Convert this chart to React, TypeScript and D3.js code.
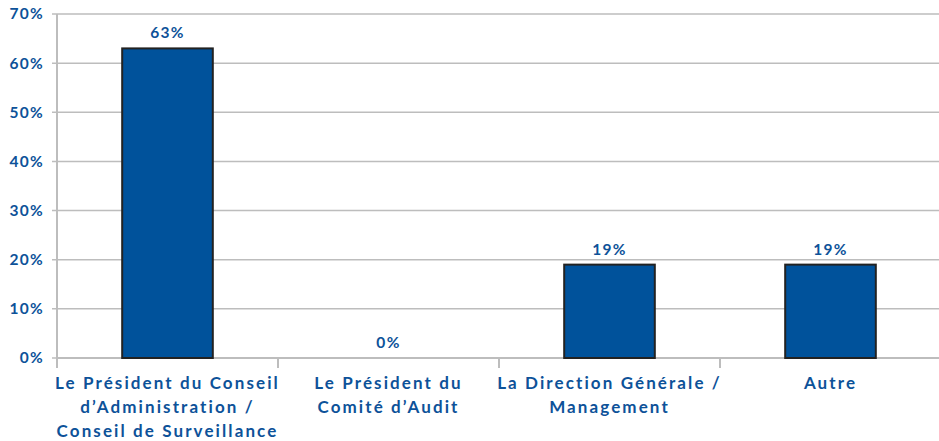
import { useMemo } from "react";
import * as d3 from "d3";

const categories = [
  ["Le Président du Conseil", "d’Administration /", "Conseil de Surveillance"],
  ["Le Président du", "Comité d’Audit"],
  ["La Direction Générale /", "Management"],
  ["Autre"],
];
const values = [63, 0, 19, 19];
const yTicks = [0, 10, 20, 30, 40, 50, 60, 70];

const WIDTH = 939;
const HEIGHT = 441;
const MARGIN = { top: 14, right: -2, bottom: 83, left: 57 };
const BLUE = "#0d5299";
const FONT = "Lato, 'Open Sans', sans-serif";

export default function App() {
  const innerW = WIDTH - MARGIN.left - MARGIN.right;
  const innerH = HEIGHT - MARGIN.top - MARGIN.bottom;

  const x = useMemo(
    () =>
      d3
        .scaleBand<number>()
        .domain(d3.range(categories.length))
        .range([0, innerW])
        .paddingInner(0.59)
        .paddingOuter(0.295),
    [innerW]
  );
  const y = useMemo(
    () => d3.scaleLinear().domain([0, 70]).range([innerH, 0]),
    [innerH]
  );
  const step = innerW / categories.length;

  return (
    <svg
      width={WIDTH}
      height={HEIGHT}
      style={{ position: "absolute", left: 0, top: 0, background: "#fff" }}
      fontFamily={FONT}
    >
      <g transform={`translate(${MARGIN.left},${MARGIN.top})`}>
        {yTicks.map((t) => (
          <g key={t} transform={`translate(0,${y(t)})`}>
            <line x1={-5} x2={innerW} stroke="#bdbdbd" strokeWidth={1.5} />
            <text
              x={-13}
              dy="0.35em"
              textAnchor="end"
              fill={BLUE}
              fontWeight={700}
              fontSize={15.5}
              letterSpacing={1.3}
            >
              {t}%
            </text>
          </g>
        ))}
        <line x1={0} x2={0} y1={0} y2={innerH} stroke="#bdbdbd" strokeWidth={2} />
        {d3.range(categories.length + 1).map((i) => (
          <line
            key={i}
            x1={i * step}
            x2={i * step}
            y1={innerH}
            y2={innerH + 10}
            stroke="#bdbdbd"
            strokeWidth={2}
          />
        ))}
        <line x1={0} x2={innerW} y1={innerH} y2={innerH} stroke="#bdbdbd" strokeWidth={2} />
        {values.map((v, i) => (
          <g key={i}>
            {v > 0 && (
              <rect
                x={x(i)}
                y={y(v)}
                width={x.bandwidth()}
                height={innerH - y(v)}
                fill="#00529b"
                stroke="#222"
                strokeWidth={2}
              />
            )}
            <text
              x={(x(i) ?? 0) + x.bandwidth() / 2}
              y={y(v) - 10}
              textAnchor="middle"
              fill={BLUE}
              fontWeight={700}
              fontSize={15.5}
              letterSpacing={1.3}
            >
              {v}%
            </text>
          </g>
        ))}
        {categories.map((lines, i) => (
          <text
            key={i}
            x={(x(i) ?? 0) + x.bandwidth() / 2}
            y={innerH + 31}
            textAnchor="middle"
            fill={BLUE}
            fontWeight={700}
            fontSize={17}
            letterSpacing={2.1}
          >
            {lines.map((l, j) => (
              <tspan key={j} x={(x(i) ?? 0) + x.bandwidth() / 2} dy={j === 0 ? 0 : 24}>
                {l}
              </tspan>
            ))}
          </text>
        ))}
      </g>
    </svg>
  );
}
